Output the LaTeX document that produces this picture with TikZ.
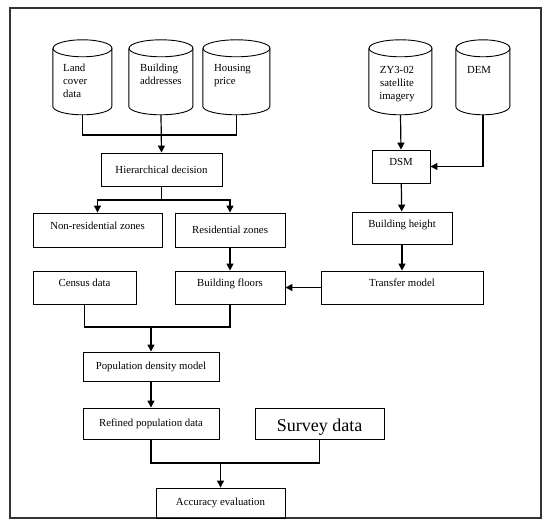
\documentclass[tikz,border=0pt]{standalone}
\usepackage{fontspec}
\setmainfont{Liberation Serif}
\usetikzlibrary{arrows.meta}

\begin{document}
\begin{tikzpicture}[x=1pt,y=-1pt,font=\fontsize{10.8}{13}\selectfont,
    >={Triangle[length=7pt,width=7pt]},
    box/.style={draw,line width=0.9pt,inner sep=0pt},
    raised/.style={text height=7.5pt,text depth=9pt},
    store/.style={inner sep=0pt,minimum height=75pt},
    link/.style={line width=1.2pt},
    txt/.style={align=left,inner sep=0pt,anchor=north west}]
  \useasboundingbox (0,0) rectangle (550,529);
  \draw[line width=1.4pt,black!80] (10,8) rectangle (541,518);

  % data sources (drawn as cylinders)
  \foreach \n/\cx/\w in {land/82.5/59,build/161/64,house/236.5/67,zy/400.5/63,dem/483/54}{
    \node[store,minimum width=\w pt] (\n) at (\cx,77.5) {};
    \draw[line width=0.9pt] (\n.north west) ++(0,8.5) -- ++(0,58)
      arc[start angle=180,end angle=0,x radius=\w/2,y radius=8.5] -- ++(0,-58);
    \draw[line width=0.9pt] (\n.north) ++(0,8.5) ellipse[x radius=\w/2,y radius=8.5];
  }
  \node[txt] (landtxt) at (63,64) {Land\\cover\\data};
  \node[txt] (buildtxt) at (140,64) {Building\\addresses};
  \node[txt] (housetxt) at (214,64) {Housing\\price};
  \node[txt,align=center,anchor=north] (zytxt) at (397,66) {ZY3-02\\satellite\\imagery};
  \node[txt,anchor=north] (demtxt) at (479,66) {DEM};

  % processing steps
  \node[box,minimum width=121pt,minimum height=33pt] (hier) at (161.5,169.5) {Hierarchical decision};
  \node[box,raised,minimum width=129pt,minimum height=34pt] (nonres) at (97.5,230) {Non-residential zones};
  \node[box,minimum width=110pt,minimum height=34pt] (res) at (230,230) {Residential zones};
  \node[box,raised,minimum width=103pt,minimum height=33pt] (census) at (84.5,287.5) {Census data};
  \node[box,raised,minimum width=110pt,minimum height=33pt] (floors) at (230,287.5) {Building floors};
  \node[box,minimum width=136pt,minimum height=29pt] (pdm) at (151,366.5) {Population density model};
  \node[box,minimum width=136pt,minimum height=31pt] (refined) at (151,423.5) {Refined population data};
  \node[box,minimum width=129pt,minimum height=31pt,text height=20pt,text depth=4pt,
    font=\fontsize{18}{20}\selectfont] (survey) at (319.5,423.5) {Survey data};
  \node[box,minimum width=129pt,minimum height=30pt] (acc) at (220.5,503) {Accuracy evaluation};
  \node[box,raised,minimum width=58pt,minimum height=33pt] (dsm) at (401,166.5) {DSM};
  \node[box,raised,minimum width=100pt,minimum height=32pt] (height) at (402,228) {Building height};
  \node[box,raised,minimum width=162pt,minimum height=33pt] (transfer) at (402,287.5) {Transfer model};

  % junctions
  \coordinate (j1) at (build.south |- 0,135);
  \coordinate (j2) at (hier.south |- 0,200);
  \coordinate (j3) at (pdm.north |- 0,327);
  \coordinate (j4) at (acc.north |- 0,463);

  % connectors
  \draw[link] (land.south) |- (j1) -| (house.south);
  \draw[link,->] (build.south) -- (hier.north);
  \draw[link] (hier.south) -- (j2);
  \draw[link,->] (j2) -| (nonres.north);
  \draw[link,->] (j2) -| (res.north);
  \draw[link,->] (res) -- (floors);
  \draw[link] (census.south) |- (j3) -| (floors.south);
  \draw[link,->] (j3) -- (pdm.north);
  \draw[link,->] (pdm) -- (refined);
  \draw[link] (refined.south) |- (j4) -| (survey.south);
  \draw[link,->] (j4) -- (acc.north);
  \draw[link,->] (zy.south) -- (dsm.north);
  \draw[link,->] (dem.south) |- (dsm.east);
  \draw[link,->] (dsm) -- (height);
  \draw[link,->] (height) -- (transfer);
  \draw[link,->] (transfer) -- (floors);
\end{tikzpicture}
\end{document}
